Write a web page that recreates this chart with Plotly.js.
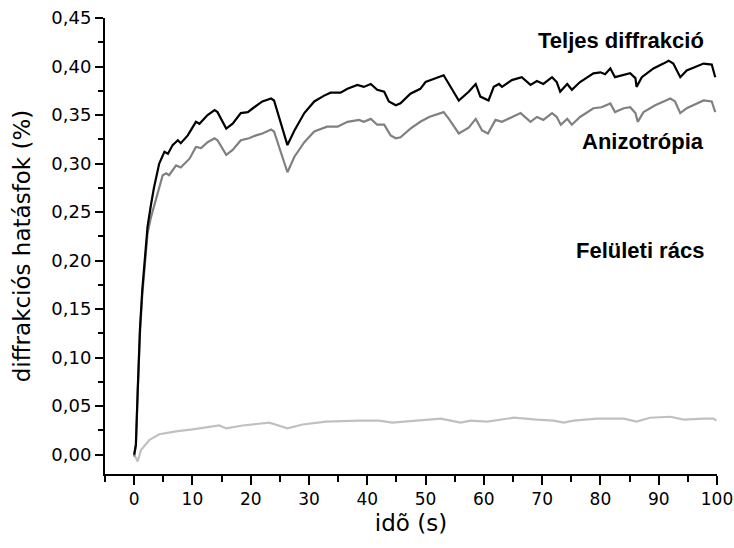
<!DOCTYPE html>
<html>
<head>
<meta charset="utf-8">
<script src="https://cdn.plot.ly/plotly-3.0.1.min.js"></script>
<style>html,body{margin:0;padding:0;background:#fff;}#chart{width:734px;height:548px;}</style>
</head>
<body>
<div id="chart"></div>
<script>
// Teljes diffrakció (black)
const teljesX = [0, 0.3, 0.6, 1.0, 1.4, 1.8, 2.3, 2.9, 3.4, 4.3,
  5.2, 5.8, 6.6, 7.5, 8.0, 9.2, 10.6, 11.2, 12.6, 13.8,
  14.3, 15.8, 16.9, 18.3, 19.5, 20.6, 22.0, 23.5, 24.0, 26.3,
  27.5, 29.2, 30.9, 32.6, 33.7, 35.4, 36.6, 38.3, 39.4, 40.6,
  41.7, 42.9, 43.7, 44.9, 45.7, 47.4, 49.1, 50.0, 51.7, 53.1,
  54.0, 55.7, 57.4, 58.6, 59.4, 60.0, 60.8, 61.7, 62.6, 63.1,
  64.8, 66.5, 68.0, 69.1, 70.2, 71.7, 72.5, 73.1, 74.3, 75.1,
  76.5, 78.8, 80.0, 80.8, 81.7, 82.5, 83.7, 85.1, 86.0, 86.2,
  87.1, 89.1, 90.8, 91.7, 92.5, 93.7, 94.8, 96.5, 97.7, 99.1,
  99.7];
const teljesY = [0, 0.01, 0.064, 0.13, 0.17, 0.20, 0.235, 0.258, 0.275, 0.300,
  0.312, 0.310, 0.319, 0.324, 0.321, 0.329, 0.343, 0.341, 0.350, 0.355,
  0.353, 0.336, 0.341, 0.352, 0.353, 0.358, 0.364, 0.367, 0.365, 0.319,
  0.334, 0.352, 0.364, 0.370, 0.373, 0.373, 0.377, 0.381, 0.379, 0.382,
  0.376, 0.374, 0.364, 0.360, 0.362, 0.372, 0.377, 0.384, 0.388, 0.391,
  0.382, 0.365, 0.374, 0.382, 0.369, 0.367, 0.365, 0.379, 0.382, 0.379,
  0.386, 0.389, 0.381, 0.385, 0.382, 0.389, 0.384, 0.374, 0.382, 0.376,
  0.384, 0.393, 0.394, 0.392, 0.398, 0.389, 0.391, 0.393, 0.388, 0.379,
  0.389, 0.398, 0.403, 0.406, 0.403, 0.389, 0.396, 0.400, 0.403, 0.402,
  0.389];

// Anizotrópia (gray)
const anizX = [0, 0.3, 0.6, 1.0, 1.4, 1.8, 2.3, 2.9, 3.5, 4.3,
  4.9, 5.5, 6.0, 7.2, 8.0, 9.5, 10.6, 11.5, 12.6, 13.8,
  14.3, 15.8, 16.9, 18.3, 19.7, 20.9, 22.0, 23.5, 24.0, 26.3,
  27.5, 29.2, 30.9, 33.1, 34.9, 36.6, 38.6, 39.4, 40.6, 41.7,
  42.9, 44.0, 44.9, 45.7, 47.4, 49.1, 50.6, 53.1, 54.0, 55.7,
  57.4, 58.6, 59.7, 60.7, 62.0, 63.1, 64.8, 66.3, 68.0, 69.1,
  70.2, 71.7, 72.5, 73.2, 74.3, 75.1, 76.5, 78.8, 80.2, 81.7,
  82.5, 84.0, 85.1, 86.0, 86.4, 87.4, 89.4, 90.8, 92.0, 92.8,
  93.7, 94.8, 96.5, 97.7, 99.1, 99.7];
const anizY = [-0.002, 0.01, 0.062, 0.125, 0.165, 0.197, 0.228, 0.245, 0.258, 0.276,
  0.288, 0.290, 0.288, 0.298, 0.296, 0.305, 0.317, 0.316, 0.322, 0.326,
  0.324, 0.309, 0.314, 0.324, 0.326, 0.329, 0.331, 0.335, 0.333, 0.291,
  0.307, 0.322, 0.333, 0.338, 0.338, 0.343, 0.345, 0.343, 0.346, 0.340,
  0.340, 0.329, 0.326, 0.327, 0.336, 0.343, 0.348, 0.353, 0.346, 0.331,
  0.337, 0.346, 0.334, 0.331, 0.345, 0.343, 0.348, 0.352, 0.343, 0.348,
  0.345, 0.352, 0.348, 0.340, 0.346, 0.340, 0.348, 0.357, 0.358, 0.362,
  0.353, 0.357, 0.358, 0.352, 0.343, 0.353, 0.360, 0.364, 0.367, 0.364,
  0.352, 0.357, 0.362, 0.365, 0.364, 0.353];

// Felületi rács (light gray)
const felX = [0, 0.6, 1.2, 2.6, 4.3, 7.2, 10.0, 14.6, 15.8, 18.6,
  23.2, 26.3, 28.9, 32.9, 38.6, 42.0, 44.3, 49.1, 52.6, 56.0,
  57.7, 60.6, 65.1, 69.1, 72.0, 73.7, 75.4, 79.4, 84.0, 86.2,
  88.5, 92.0, 94.3, 97.7, 99.4, 99.9];
const felY = [0.000, -0.007, 0.005, 0.015, 0.021, 0.024, 0.026, 0.030, 0.027, 0.030,
  0.033, 0.027, 0.031, 0.034, 0.035, 0.035, 0.033, 0.035, 0.037, 0.033,
  0.035, 0.034, 0.038, 0.036, 0.035, 0.033, 0.035, 0.037, 0.037, 0.034,
  0.038, 0.039, 0.036, 0.037, 0.037, 0.035];

const seriesNames = ["Teljes diffrakció", "Anizotrópia", "Felületi rács"];
const xTitle = "idõ (s)";
const yTitle = "diffrakciós hatásfok (%)";

const AXFONT = "DejaVu Sans, Liberation Sans, Arial, sans-serif";
const LBLFONT = "Liberation Sans, Arial, sans-serif";

const traces = [
  {x: felX, y: felY, mode: "lines", name: seriesNames[2], line: {color: "#c0c0c0", width: 2.2}},
  {x: anizX, y: anizY, mode: "lines", name: seriesNames[1], line: {color: "#808080", width: 2.2}},
  {x: teljesX, y: teljesY, mode: "lines", name: seriesNames[0], line: {color: "#000000", width: 2.2}}
];

const layout = {
  width: 734, height: 548,
  margin: {l: 105, r: 17, t: 18, b: 74},
  paper_bgcolor: "#ffffff", plot_bgcolor: "#ffffff",
  showlegend: false,
  separators: ",.",
  font: {family: AXFONT, size: 16, color: "#000"},
  xaxis: {
    range: [-5, 100], tick0: 0, dtick: 10,
    showgrid: false, zeroline: false,
    showline: true, linecolor: "#000", linewidth: 2,
    ticks: "outside", ticklen: 9, tickwidth: 2, tickcolor: "#000",
    minor: {dtick: 5, tick0: 0, ticks: "outside", ticklen: 6, tickwidth: 2, tickcolor: "#000", showgrid: false},
    tickfont: {family: AXFONT, size: 17},
    title: {text: xTitle, font: {family: AXFONT, size: 23}, standoff: 6}
  },
  yaxis: {
    range: [-0.02, 0.45], tick0: 0, dtick: 0.05, tickformat: ".2f",
    showgrid: false, zeroline: false,
    showline: true, linecolor: "#000", linewidth: 2,
    ticks: "outside", ticklen: 8, tickwidth: 2, tickcolor: "#000",
    minor: {dtick: 0.025, tick0: 0, ticks: "outside", ticklen: 5, tickwidth: 2, tickcolor: "#000", showgrid: false},
    tickfont: {family: AXFONT, size: 18},
    title: {text: yTitle, font: {family: AXFONT, size: 23}, standoff: 14}
  },
  annotations: [
    {x: 98.1, y: 0.427, xref: "x", yref: "y", text: "<b>" + seriesNames[0] + "</b>", showarrow: false, xanchor: "right", yanchor: "middle", font: {family: LBLFONT, size: 22, color: "#000"}},
    {x: 98.1, y: 0.323, xref: "x", yref: "y", text: "<b>" + seriesNames[1] + "</b>", showarrow: false, xanchor: "right", yanchor: "middle", font: {family: LBLFONT, size: 22, color: "#000"}},
    {x: 98.1, y: 0.210, xref: "x", yref: "y", text: "<b>" + seriesNames[2] + "</b>", showarrow: false, xanchor: "right", yanchor: "middle", font: {family: LBLFONT, size: 22, color: "#000"}}
  ]
};

Plotly.newPlot("chart", traces, layout, {staticPlot: true, displayModeBar: false});
</script>
</body>
</html>
